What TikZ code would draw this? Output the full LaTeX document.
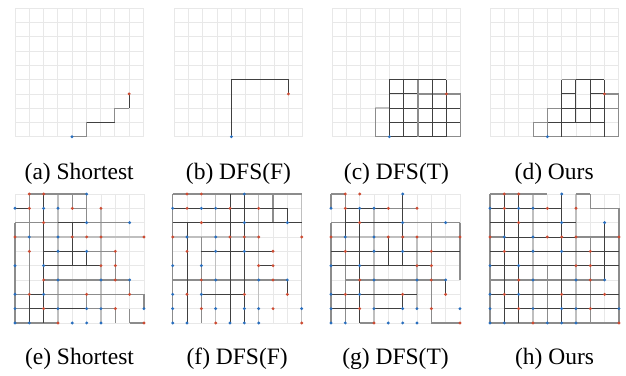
\documentclass[tikz,border=0pt]{standalone}
\usepackage{fontspec}
\setmainfont{Liberation Serif}
\usepackage{tikz}
\usetikzlibrary{positioning}

\definecolor{agentblue}{RGB}{40,110,190}
\definecolor{agentred}{RGB}{205,75,50}

\newcommand{\panelgrid}{%
  \foreach \k in {0,...,9} {
    \draw[gridln] (\k,0) -- (\k,9);
    \draw[gridln] (0,\k) -- (9,\k);
  }}
\newcommand{\hseg}[2]{\foreach \r/\a/\b in {#2} \draw[#1] (\a,\r) -- (\b,\r);}
\newcommand{\vseg}[2]{\foreach \c/\a/\b in {#2} \draw[#1] (\c,\a) -- (\c,\b);}
\newcommand{\agentdots}{%
  \foreach \c/\r in {5/0,0/1,2/1,3/1,5/2,8/2,1/3,3/3,3/4,5/4,0/5,2/5,3/6,6/6,8/6,
                     0/7,2/7,0/8,3/8,5/8,6/8,9/8,0/9,1/9,4/9,5/9,6/9}
    \fill[bdot] (\c,\r) circle[radius=1.6pt];
  \foreach \c/\r in {1/0,2/0,1/1,4/1,6/1,2/2,0/3,4/3,5/3,6/3,9/3,1/4,7/4,6/5,7/5,
                     2/6,7/6,1/7,5/7,8/7,2/8,7/8,3/9,9/9}
    \fill[rdot] (\c,\r) circle[radius=1.6pt];}

\begin{document}
\begin{tikzpicture}[
  gridln/.style={draw=black!9, line width=0.8pt},
  dk/.style={draw=black!75, line width=0.9pt},
  gy/.style={draw=black!45, line width=1.2pt},
  lt/.style={draw=black!25, line width=1.5pt},
  bdot/.style={fill=agentblue},
  rdot/.style={fill=agentred},
  toprow/.style={x=14.27pt, y=-14.27pt},
  botrow/.style={x=14.33pt, y=-14.33pt},
  captxt/.style={font=\fontsize{23.5}{28}\selectfont, anchor=base, inner sep=0pt}
]
  \useasboundingbox (0pt,0pt) rectangle (626pt,-375pt);

  % top row
  \begin{scope}[toprow, shift={(15pt,-8.3pt)}]
    \panelgrid
    \hseg{gy}{9/4/5, 7/7/8}
    \hseg{dk}{8/5/7}
    \vseg{gy}{5/9/8, 7/8/7}
    \vseg{dk}{8/7/6}
    \fill[bdot] (4,9) circle[radius=1.6pt];
    \fill[rdot] (8,6) circle[radius=1.6pt];
  \end{scope}
  \begin{scope}[toprow, shift={(174.3pt,-8.3pt)}]
    \panelgrid
    \draw[dk] (4,9) -- (4,5) -- (8,5) -- (8,6);
    \fill[bdot] (4,9) circle[radius=1.6pt];
    \fill[rdot] (8,6) circle[radius=1.6pt];
  \end{scope}
  \begin{scope}[toprow, shift={(332.3pt,-8.3pt)}]
    \panelgrid
    \hseg{lt}{7/3/4}
    \hseg{gy}{6/6/9, 9/8/9, 9/3/4}
    \hseg{dk}{5/4/8, 6/4/6, 7/4/9, 8/4/9, 9/4/8}
    \vseg{gy}{6/5/9, 9/6/9, 3/7/9}
    \vseg{dk}{4/5/9, 5/5/9, 7/5/9, 8/5/9}
    \fill[bdot] (4,9) circle[radius=1.6pt];
    \fill[rdot] (8,6) circle[radius=1.6pt];
  \end{scope}
  \begin{scope}[toprow, shift={(490.3pt,-8.3pt)}]
    \panelgrid
    \hseg{gy}{5/5/6, 6/8/9, 7/4/5, 7/8/9, 8/3/4, 9/3/9}
    \hseg{dk}{5/6/8, 6/5/6, 6/7/8, 7/5/8, 8/4/8}
    \vseg{gy}{3/8/9, 4/7/9, 9/6/9}
    \vseg{dk}{5/5/9, 6/5/8, 7/5/8, 8/5/9}
    \fill[bdot] (4,9) circle[radius=1.6pt];
    \fill[rdot] (8,6) circle[radius=1.6pt];
  \end{scope}

  % bottom row
  \begin{scope}[botrow, shift={(15pt,-194pt)}]
    \panelgrid
    \hseg{lt}{3/0/9}
    \vseg{lt}{3/0/9, 6/1/9}
    \hseg{gy}{0/1/5, 1/4/5, 2/0/3, 2/5/8, 4/5/7, 6/2/8, 7/0/1, 7/2/9, 8/0/1, 8/5/7, 9/0/3, 9/8/9}
    \vseg{gy}{0/2/9, 1/0/7, 4/0/1, 5/0/2, 5/7/8, 7/4/6, 7/8/9, 8/6/7, 8/8/9, 9/7/8}
    \hseg{dk}{1/0/1, 2/3/5, 4/2/5, 5/2/6, 7/1/2, 8/1/5}
    \vseg{dk}{1/7/9, 2/0/9, 4/2/5, 5/4/5}
    \agentdots
  \end{scope}
  \begin{scope}[botrow, shift={(172.7pt,-194pt)}]
    \panelgrid
    \hseg{lt}{3/0/6}
    \vseg{lt}{3/0/9, 6/0/9, 9/0/9}
    \hseg{gy}{0/0/9, 6/0/8}
    \vseg{gy}{0/0/9, 2/3/9, 7/0/2}
    \hseg{dk}{1/0/8, 2/0/9, 4/2/7, 5/6/7, 7/2/5}
    \vseg{dk}{1/2/9, 4/0/9, 5/0/9, 8/1/2, 8/6/7}
    \agentdots
  \end{scope}
  \begin{scope}[botrow, shift={(331pt,-194pt)}]
    \panelgrid
    \hseg{lt}{3/0/9}
    \vseg{lt}{3/1/9, 6/3/8}
    \hseg{gy}{0/0/1, 1/4/6, 2/0/1, 2/5/9, 6/1/8, 9/2/3, 9/7/9}
    \vseg{gy}{0/0/1, 0/2/9, 1/0/1, 1/3/9, 7/2/9, 9/2/6}
    \hseg{dk}{1/1/4, 2/1/5, 4/0/9, 5/0/7, 7/0/6, 8/0/2, 8/3/5}
    \vseg{dk}{1/1/3, 2/1/9, 4/3/5, 5/0/5, 5/7/8, 8/6/7}
    \agentdots
  \end{scope}
  \begin{scope}[botrow, shift={(490pt,-194pt)}]
    \panelgrid
    \vseg{lt}{3/0/9, 6/0/9}
    \hseg{gy}{0/0/4, 0/6/7, 1/7/9, 3/0/1, 3/6/9, 6/0/8, 9/0/9}
    \vseg{gy}{0/0/9, 4/5/9, 7/0/1, 7/3/9, 9/1/9}
    \hseg{dk}{1/0/5, 2/0/6, 3/1/6, 4/0/9, 5/0/9, 7/0/9, 8/1/9}
    \vseg{dk}{1/0/9, 2/0/9, 5/0/9, 8/2/6}
    \agentdots
  \end{scope}

  % captions
  \node[captxt] (capa) at (79.2pt,-179.5pt) {(a) Shortest};
  \node[captxt] (capb) at (238.5pt,-179.5pt) {(b) DFS(F)};
  \node[captxt] (capc) at (396.5pt,-179.5pt) {(c) DFS(T)};
  \node[captxt] (capd) at (554.2pt,-179.5pt) {(d) Ours};
  \node[captxt] (cape) at (79.5pt,-364pt) {(e) Shortest};
  \node[captxt] (capf) at (237.2pt,-364pt) {(f) DFS(F)};
  \node[captxt] (capg) at (395.5pt,-364pt) {(g) DFS(T)};
  \node[captxt] (caph) at (554.5pt,-364pt) {(h) Ours};
\end{tikzpicture}
\end{document}
